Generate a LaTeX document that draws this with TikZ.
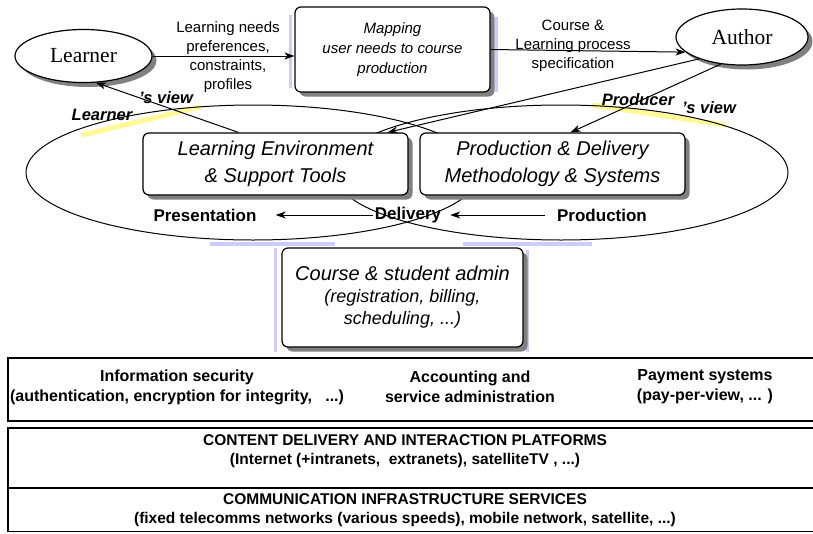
\documentclass[tikz,border=0pt]{standalone}
\usepackage{fontspec}
\setmainfont{Liberation Sans}
\newfontfamily\actorfont{Liberation Serif}
\usetikzlibrary{shapes,arrows,positioning,calc,shadows,arrows.meta}

\definecolor{lavender}{RGB}{204,204,255}
\definecolor{hiyellow}{RGB}{255,250,150}
\definecolor{shadowgray}{RGB}{128,128,128}
\newcommand\adminsmall{\fontsize{18}{22}\selectfont}

\tikzset{
  boxshadow/.style={drop shadow={shadow xshift=4.5pt, shadow yshift=-4.5pt, fill=shadowgray, opacity=1}},
  actor/.style={draw, ellipse, line width=1.2pt, fill=white, inner sep=0pt, minimum width=137pt, minimum height=53pt, font=\actorfont\fontsize{21.5}{24}\selectfont, boxshadow},
  task/.style={draw, rectangle, rounded corners=6pt, line width=1.2pt, fill=white, align=center, inner sep=0pt, boxshadow},
  flowlabel/.style={align=center, inner sep=0pt, font=\fontsize{15}{19}\selectfont},
  stage/.style={inner sep=2pt, font=\bfseries\fontsize{17}{20}\selectfont},
  viewlabel/.style={inner sep=0pt, font=\bfseries\itshape\fontsize{16.5}{19}\selectfont},
  layertext/.style={align=center, inner sep=0pt, font=\bfseries\fontsize{15.5}{19.5}\selectfont},
  flow/.style={line width=1pt, ->},
  >={Stealth[length=10pt, width=7pt, inset=3pt]}
}

\begin{document}
\begin{tikzpicture}[x=1pt, y=-1pt]
    \useasboundingbox (0,0) rectangle (813,533);

    \draw[line width=5pt, hiyellow] (82,135) -- (200,107);
    \draw[line width=5pt, hiyellow] (592,105) -- (725,125);

    \node (learnview) [draw, ellipse, line width=1pt, minimum width=454pt, minimum height=135pt] at (253,172.5) {};
    \node (prodview) [draw, ellipse, line width=1pt, minimum width=454pt, minimum height=135pt] at (561,172.5) {};

    \draw[line width=4pt, lavender] (210,244) -- (335,244);
    \draw[line width=4pt, lavender] (463,244) -- (592,244);
    \draw[line width=3pt, lavender] (275,248) -- (275,352);
    \draw[line width=3pt, lavender] (527,250) -- (527,352);
    \draw[line width=3pt, lavender] (290,15) -- (290,88);
    \draw[line width=3pt, lavender] (496,17) -- (496,92);

    \node (learner) [actor] at (83.5,56) {Learner};
    \node (author) [actor, minimum width=132pt, minimum height=56pt] at (742,37) {Author};

    \node (mapping) [task, minimum width=195pt, minimum height=85pt, font=\itshape\fontsize{15}{20}\selectfont] at (392.5,49.5) {Mapping\\ user needs to course\\ production};
    \node (learnenv) [task, minimum width=265pt, minimum height=62pt, font=\itshape\fontsize{20}{27}\selectfont] at (275.5,164) {Learning Environment\\ \& Support Tools};
    \node (prodsys) [task, minimum width=265pt, minimum height=62pt, font=\itshape\fontsize{20}{27}\selectfont] at (552.5,164) {Production \& Delivery\\ Methodology \& Systems};
    \node (admin) [task, minimum width=241pt, minimum height=99pt, font=\itshape\fontsize{20}{22}\selectfont] at (402.5,297.5) {Course \& student admin\\ \adminsmall (registration, billing,\\ \adminsmall scheduling, ...)};

    \node (needs) [flowlabel] at (228,57) {Learning needs\\ preferences,\\ constraints,\\ profiles};
    \node (spec) [flowlabel] at (573,45.5) {Course \&\\ Learning process\\ specification};

    \node (presentation) [stage] at (205,215) {Presentation};
    \node (delivery) [stage] at (408,215) {Delivery};
    \node (production) [stage] at (602,215) {Production};

    \node (learnerlbl) [viewlabel] at (102,115) {Learner};
    \node (learnerview) [viewlabel] at (166,98) {'s view};
    \node (producerlbl) [viewlabel] at (638,100) {Producer};
    \node (producerview) [viewlabel] at (709,108) {'s view};

    \draw[flow] (learner.east) -- (learner.east -| mapping.west);
    \draw[flow] (mapping.east) -- (author.195);
    \draw[flow] ([xshift=-37pt]learnenv.north) -- (learner.295);
    \draw[flow] (author.207) -- ([xshift=-21pt]learnenv.north east);
    \draw[flow] (author.232) -- ([xshift=18pt]prodsys.north);
    \draw[flow] (delivery.west) -- ([xshift=17pt]presentation.east);
    \draw[flow] ([xshift=-10pt]production.west) -- ([xshift=7pt]delivery.east);

    \draw[line width=1.6pt] (8,358) rectangle (830,421);
    \draw[line width=1.6pt] (8,428) rectangle (830,488);
    \draw[line width=1.6pt] (8,488) rectangle (830,531.5);

    \node (security) [layertext, font=\bfseries\fontsize{16}{20}\selectfont] at (177,387) {Information security\\ (authentication, encryption for integrity, \ \ ...)};
    \node (accounting) [layertext, font=\bfseries\fontsize{16}{20}\selectfont] at (470,387) {Accounting and\\ service administration};
    \node (payment) [layertext, font=\bfseries\fontsize{16}{20}\selectfont] at (705,387) {Payment systems\\ (pay-per-view, ... )};
    \node (platforms) [layertext] at (405,451) {CONTENT DELIVERY AND INTERACTION PLATFORMS\\ (Internet (+intranets, \ extranets), satelliteTV , ...)};
    \node (infra) [layertext] at (405,510) {COMMUNICATION INFRASTRUCTURE SERVICES\\ (fixed telecomms networks (various speeds), mobile network, satellite, ...)};
\end{tikzpicture}
\end{document}
